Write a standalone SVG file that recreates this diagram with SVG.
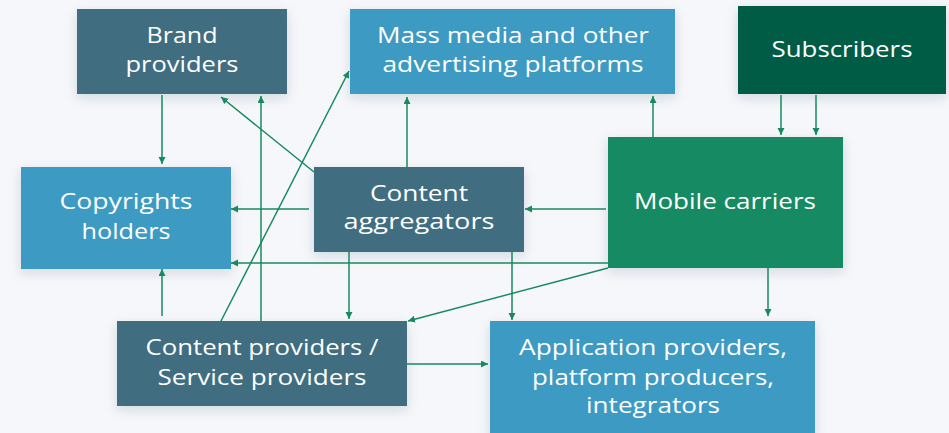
<svg xmlns="http://www.w3.org/2000/svg" width="949" height="433" viewBox="0 0 949 433">
<defs>
<filter id="sh" x="-20%" y="-20%" width="140%" height="150%">
<feDropShadow dx="0" dy="4" stdDeviation="6" flood-color="#1c2a40" flood-opacity="0.14"/>
</filter>
<marker id="ah" markerWidth="8" markerHeight="8" refX="7" refY="3.5" orient="auto" markerUnits="userSpaceOnUse">
<path d="M0,0 L7,3.5 L0,7 z" fill="#178a5f"/>
</marker>
<style>
.dk{fill:#416e80}
.lt{fill:#3e9ac2}
.sub{fill:#035b45}
.mob{fill:#168a62}
.t{font-family:"Open Sans","Noto Sans",sans-serif;font-size:21px;font-weight:500;fill:#ffffff;text-anchor:middle}
.c{fill:none;stroke:#178a5f;stroke-width:1.5;marker-end:url(#ah)}
</style>
</defs>
<rect width="949" height="433" fill="#f5f7fb"/>
<g id="brand-providers">
<rect class="dk" x="77" y="9" width="210" height="85" filter="url(#sh)"/>
<text class="t" x="182" y="43" textLength="71" lengthAdjust="spacingAndGlyphs">Brand</text>
<text class="t" x="182" y="72" textLength="113" lengthAdjust="spacingAndGlyphs">providers</text>
</g>
<g id="mass-media">
<rect class="lt" x="350" y="9" width="325" height="85" filter="url(#sh)"/>
<text class="t" x="513" y="43" textLength="272" lengthAdjust="spacingAndGlyphs">Mass media and other</text>
<text class="t" x="513" y="72" textLength="261" lengthAdjust="spacingAndGlyphs">advertising platforms</text>
</g>
<g id="subscribers">
<rect class="sub" x="738" y="6" width="208" height="88" filter="url(#sh)"/>
<text class="t" x="842" y="57" textLength="141" lengthAdjust="spacingAndGlyphs">Subscribers</text>
</g>
<g id="copyrights-holders">
<rect class="lt" x="21" y="167" width="210" height="102" filter="url(#sh)"/>
<text class="t" x="126" y="209" textLength="133" lengthAdjust="spacingAndGlyphs">Copyrights</text>
<text class="t" x="126" y="239" textLength="89" lengthAdjust="spacingAndGlyphs">holders</text>
</g>
<g id="content-aggregators">
<rect class="dk" x="314" y="167" width="210" height="85" filter="url(#sh)"/>
<text class="t" x="419" y="201" textLength="98" lengthAdjust="spacingAndGlyphs">Content</text>
<text class="t" x="419" y="229" textLength="151" lengthAdjust="spacingAndGlyphs">aggregators</text>
</g>
<g id="mobile-carriers">
<rect class="mob" x="608" y="137" width="235" height="131" filter="url(#sh)"/>
<text class="t" x="725" y="209" textLength="182" lengthAdjust="spacingAndGlyphs">Mobile carriers</text>
</g>
<g id="content-providers">
<rect class="dk" x="117" y="321" width="290" height="85" filter="url(#sh)"/>
<text class="t" x="262" y="355" textLength="233" lengthAdjust="spacingAndGlyphs">Content providers /</text>
<text class="t" x="262" y="385" textLength="209" lengthAdjust="spacingAndGlyphs">Service providers</text>
</g>
<g id="application-providers">
<rect class="lt" x="490" y="321" width="325" height="116" filter="url(#sh)"/>
<text class="t" x="653" y="355" textLength="268" lengthAdjust="spacingAndGlyphs">Application providers,</text>
<text class="t" x="653" y="385" textLength="242" lengthAdjust="spacingAndGlyphs">platform producers,</text>
<text class="t" x="653" y="413" textLength="134" lengthAdjust="spacingAndGlyphs">integrators</text>
</g>
<g id="connectors">
<path class="c" d="M162,95 L162,164"/>
<path class="c" d="M261,321 L261,96"/>
<path class="c" d="M314,172 L221,97"/>
<path class="c" d="M221,321 L349,71"/>
<path class="c" d="M407,167 L407,97"/>
<path class="c" d="M653,137 L653,96"/>
<path class="c" d="M781,95 L781,135"/>
<path class="c" d="M816,95 L816,135"/>
<path class="c" d="M309,209 L231,209"/>
<path class="c" d="M606,209 L525,209"/>
<path class="c" d="M608,263 L231,263"/>
<path class="c" d="M162,316 L162,269"/>
<path class="c" d="M349,252 L349,319"/>
<path class="c" d="M608,268 L408,321"/>
<path class="c" d="M512,252 L512,320"/>
<path class="c" d="M768,268 L768,316"/>
<path class="c" d="M407,364 L488,364"/>
</g>
</svg>
